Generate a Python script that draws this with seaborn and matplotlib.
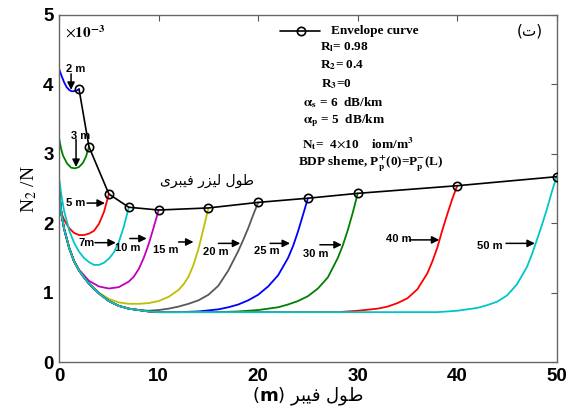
import numpy as np
import pandas as pd
import seaborn as sns
import matplotlib
matplotlib.use("Agg")
import matplotlib.pyplot as plt

# ---- inversion profiles N2/N (x 1e-3) along the fibre for each laser length ----
z_2m = [0, 0.25, 0.5, 0.75, 1, 1.25, 1.5, 1.75, 2]
n_2m = [4.22, 4.12, 4.03, 3.96, 3.92, 3.90, 3.90, 3.91, 3.93]

z_3m = [0, 0.2, 0.4, 0.8, 1.2, 1.6, 2.0, 2.4, 2.7, 3.0]
n_3m = [3.22, 3.07, 2.97, 2.86, 2.80, 2.79, 2.81, 2.87, 2.96, 3.10]

z_5m = [0, 0.25, 0.5, 1, 1.5, 2, 2.5, 3, 3.5, 4, 4.5, 5]
n_5m = [2.30, 2.14, 2.05, 1.93, 1.86, 1.83, 1.83, 1.85, 1.89, 1.99, 2.16, 2.42]

z_7m = [0, 0.25, 0.5, 1, 1.5, 2, 2.5, 3, 3.5, 4, 4.5, 5, 5.5, 6, 6.5, 7]
n_7m = [2.64, 2.38, 2.18, 1.90, 1.72, 1.59, 1.50, 1.44, 1.40, 1.40, 1.43, 1.49,
        1.58, 1.73, 1.95, 2.23]

z_10m = [0, 0.25, 0.5, 1, 1.5, 2, 3, 4, 5, 6, 7, 7.5, 8, 8.5, 9, 9.5, 10]
n_10m = [2.45, 2.12, 1.92, 1.65, 1.46, 1.33, 1.17, 1.09, 1.06, 1.08, 1.16, 1.23,
         1.34, 1.50, 1.70, 1.94, 2.19]

z_15m = [0, 0.25, 0.5, 1, 1.5, 2, 3, 4, 5, 6, 7, 8, 9, 10, 11, 12, 12.5, 13,
         13.5, 14, 14.5, 15]
n_15m = [2.45, 2.12, 1.92, 1.65, 1.45, 1.32, 1.13, 1.00, 0.91, 0.86, 0.84, 0.84,
         0.85, 0.88, 0.94, 1.04, 1.12, 1.23, 1.40, 1.63, 1.92, 2.22]

z_20m = [0, 0.25, 0.5, 1, 1.5, 2, 2.5, 3, 4, 5, 6, 7, 8, 9, 10, 11, 12, 13, 14,
         15, 16, 17, 17.5, 18, 18.5, 19, 19.5, 20]
n_20m = [2.45, 2.12, 1.92, 1.65, 1.45, 1.32, 1.22, 1.13, 0.99, 0.88, 0.81, 0.77,
         0.75, 0.74, 0.75, 0.77, 0.80, 0.84, 0.89, 0.97, 1.10, 1.32, 1.46, 1.60,
         1.76, 1.93, 2.12, 2.30]

z_25m = [0, 0.25, 0.5, 1, 1.5, 2, 2.5, 3, 4, 5, 6, 7, 8, 9, 10, 12, 14, 16, 17,
         18, 19, 20, 21, 22, 23, 23.5, 24, 24.5, 25]
n_25m = [2.45, 2.12, 1.92, 1.65, 1.45, 1.32, 1.22, 1.13, 0.99, 0.88, 0.81, 0.77,
         0.75, 0.73, 0.72, 0.72, 0.73, 0.76, 0.79, 0.83, 0.89, 0.97, 1.09, 1.25,
         1.50, 1.67, 1.88, 2.12, 2.36]

z_30m = [0, 0.25, 0.5, 1, 1.5, 2, 2.5, 3, 4, 5, 6, 7, 8, 9, 10, 12, 14, 16, 18,
         20, 21, 22, 23, 24, 25, 26, 27, 28, 28.5, 29, 29.5, 30]
n_30m = [2.45, 2.12, 1.92, 1.65, 1.45, 1.32, 1.22, 1.13, 0.99, 0.88, 0.81, 0.77,
         0.75, 0.73, 0.72, 0.72, 0.72, 0.72, 0.73, 0.75, 0.77, 0.79, 0.83, 0.88,
         0.95, 1.06, 1.22, 1.50, 1.68, 1.90, 2.15, 2.43]

z_40m = [0, 0.25, 0.5, 1, 1.5, 2, 2.5, 3, 4, 5, 6, 7, 8, 9, 10, 12, 16, 20, 24,
         28, 30, 32, 33, 34, 35, 36, 37, 37.5, 38, 38.5, 39, 39.5, 40]
n_40m = [2.45, 2.12, 1.92, 1.65, 1.45, 1.32, 1.22, 1.13, 0.99, 0.88, 0.81, 0.77,
         0.75, 0.73, 0.72, 0.72, 0.72, 0.72, 0.72, 0.72, 0.74, 0.77, 0.80, 0.85,
         0.92, 1.05, 1.28, 1.45, 1.65, 1.90, 2.13, 2.35, 2.54]

z_50m = [0, 0.25, 0.5, 1, 1.5, 2, 2.5, 3, 4, 5, 6, 7, 8, 9, 10, 12, 16, 20, 24,
         28, 32, 36, 38, 40, 42, 43, 44, 45, 46, 47, 47.5, 48, 48.5, 49, 49.5, 50]
n_50m = [2.45, 2.12, 1.92, 1.65, 1.45, 1.32, 1.22, 1.13, 0.99, 0.88, 0.81, 0.77,
         0.75, 0.73, 0.72, 0.72, 0.72, 0.72, 0.72, 0.72, 0.72, 0.72, 0.72, 0.74,
         0.78, 0.82, 0.87, 0.96, 1.12, 1.37, 1.55, 1.76, 1.97, 2.20, 2.45, 2.68]

# envelope: end-of-fibre inversion for each laser length
env_len = [2, 3, 5, 7, 10, 15, 20, 25, 30, 40, 50]
env_n2 = [3.93, 3.10, 2.42, 2.23, 2.19, 2.22, 2.30, 2.36, 2.43, 2.54, 2.67]

curves = [
    ("2 m", z_2m, n_2m, (0, 0, 1)),
    ("3 m", z_3m, n_3m, (0, 0.5, 0)),
    ("5 m", z_5m, n_5m, (1, 0, 0)),
    ("7m", z_7m, n_7m, (0, 0.78, 0.78)),
    ("10 m", z_10m, n_10m, (0.75, 0, 0.75)),
    ("15 m", z_15m, n_15m, (0.75, 0.75, 0)),
    ("20 m", z_20m, n_20m, (0.35, 0.35, 0.35)),
    ("25 m", z_25m, n_25m, (0, 0, 1)),
    ("30 m", z_30m, n_30m, (0, 0.5, 0)),
    ("40 m", z_40m, n_40m, (1, 0, 0)),
    ("50 m", z_50m, n_50m, (0, 0.78, 0.78)),
]

# length labels: (text, text centre x, y, arrow tail x, tail y, head x, head y)
labels = [
    ("2 m", 1.7, 4.22, 1.2, 4.15, 1.2, 3.92),
    ("3 m", 2.2, 3.26, 1.7, 3.21, 1.7, 2.81),
    ("5 m", 1.7, 2.29, 2.8, 2.29, 4.6, 2.29),
    ("7m", 2.76, 1.72, 3.6, 1.72, 5.7, 1.72),
    ("10 m", 6.9, 1.65, 7.1, 1.78, 8.8, 1.78),
    ("15 m", 10.7, 1.62, 12.0, 1.73, 13.5, 1.73),
    ("20 m", 15.7, 1.59, 16.0, 1.71, 18.2, 1.71),
    ("25 m", 20.9, 1.60, 21.2, 1.71, 23.2, 1.71),
    ("30 m", 25.8, 1.56, 26.2, 1.69, 28.4, 1.69),
    ("40 m", 34.1, 1.78, 35.2, 1.76, 38.2, 1.76),
    ("50 m", 43.3, 1.67, 44.9, 1.71, 47.8, 1.71),
]

# ---- minimal Persian shaping (presentation forms, visual order) ----
FORMS = {
    'ط': ('\uFEC1', '\uFEC2', '\uFEC3', '\uFEC4'),
    'و': ('\uFEED', '\uFEEE', None, None),
    'ل': ('\uFEDD', '\uFEDE', '\uFEDF', '\uFEE0'),
    'ی': ('\uFEEF', '\uFEF0', '\uFEF3', '\uFEF4'),
    'ز': ('\uFEAF', '\uFEB0', None, None),
    'ر': ('\uFEAD', '\uFEAE', None, None),
    'ف': ('\uFED1', '\uFED2', '\uFED3', '\uFED4'),
    'ب': ('\uFE8F', '\uFE90', '\uFE91', '\uFE92'),
}


def shape_fa(text):
    out = []
    for i, ch in enumerate(text):
        if ch not in FORMS:
            out.append(ch)
            continue
        prev = text[i - 1] if i > 0 else None
        nxt = text[i + 1] if i + 1 < len(text) else None
        j_prev = prev in FORMS and FORMS[prev][2] is not None
        j_next = nxt in FORMS and FORMS[ch][2] is not None
        iso, fin, ini, med = FORMS[ch]
        if j_prev and j_next:
            out.append(med)
        elif j_prev:
            out.append(fin)
        elif j_next:
            out.append(ini)
        else:
            out.append(iso)
    return ''.join(reversed(out))


sns.set_theme(style="white")
plt.rcParams["mathtext.fontset"] = "stix"

fig = plt.figure(figsize=(5.74, 4.12), dpi=100)
ax = fig.add_axes([0.103, 0.121, 0.867, 0.843])

for name, zs, ns, col in curves:
    df = pd.DataFrame({"z": zs, "n": ns})
    sns.lineplot(data=df, x="z", y="n", color=col, lw=1.3, sort=False,
                 ax=ax, legend=False)

env = pd.DataFrame({"L": env_len, "N2": env_n2})
sns.lineplot(data=env, x="L", y="N2", color="black", lw=1.2, marker="o",
             markersize=6, markerfacecolor="none", markeredgecolor="black",
             markeredgewidth=1.2, sort=False, ax=ax, legend=False, zorder=5)

for txt, tx, ty, ax0, ay0, ax1, ay1 in labels:
    ax.text(tx, ty, txt, ha="center", va="center", fontsize=8,
            fontweight="bold", family="Liberation Sans", color="black")
    ax.annotate("", xy=(ax1, ay1), xytext=(ax0, ay0),
                arrowprops=dict(arrowstyle="-|>", color="black", lw=1.1,
                                mutation_scale=11, shrinkA=0, shrinkB=0))

# legend-style key for the envelope curve
ax.plot([22.2, 26.2], [4.77, 4.77], color="black", lw=1.2)
ax.plot([24.3], [4.77], "o", ms=6, mfc="none", mec="black", mew=1.2)
serif = dict(family="Liberation Serif", fontweight="bold", fontsize=9.5,
             va="center", ha="left", color="black")
ax.text(27.3, 4.77, "Envelope curve", **serif)
ax.text(26.2, 4.53, r"R$_\mathbf{l}$= 0.98", **serif)
ax.text(26.2, 4.28, r"R$_\mathbf{2}$= 0.4", **serif)
ax.text(26.3, 4.01, r"R$_\mathbf{3}$=0", **serif)
ax.text(24.5, 3.73, r"$\mathbf{\alpha_s}$ = 6  dB/km", **serif)
ax.text(24.5, 3.47, r"$\mathbf{\alpha_p}$ = 5  dB/km", **serif)
ax.text(24.4, 3.15, r"N$_\mathbf{t}$=  4$\times$10    iom/m$^\mathbf{3}$", **serif)
ax.text(24.0, 2.86, r"BDP sheme, P$_\mathbf{p}^\mathbf{+}$(0)=P$_\mathbf{p}^\mathbf{-}$(L)",
        **serif)

ax.text(47.3, 4.77, "(ت)", family="DejaVu Sans", fontsize=11, ha="center",
        va="center", color="black")
ax.text(14.9, 2.61, shape_fa("طول لیزر فیبری"), family="DejaVu Sans",
        fontsize=10, ha="center", va="center", color="black")
ax.text(0.6, 4.74, r"$\times\mathbf{10}^{\mathbf{-3}}$", fontsize=11,
        ha="left", va="center", color="black")

ax.set_xlim(0, 50)
ax.set_ylim(0, 5)
ax.set_xticks([0, 10, 20, 30, 40, 50])
ax.set_yticks([0, 1, 2, 3, 4, 5])
ax.tick_params(direction="in", top=True, right=True, length=4, width=0.8,
               color="#555555", pad=4)
for lab in ax.get_xticklabels() + ax.get_yticklabels():
    lab.set_family("Liberation Sans")
    lab.set_fontweight("bold")
    lab.set_fontsize(13.5)
    lab.set_color("black")
for sp in ax.spines.values():
    sp.set_color("#666666")
    sp.set_linewidth(1.0)

ax.set_ylabel(r"N$_2$ /N", family="Liberation Serif", fontsize=14,
              color="black", labelpad=3)
ax.set_xlabel(r"($\mathbf{m}$) " + shape_fa("طول فیبر"), family="DejaVu Sans",
              fontsize=13, color="black", labelpad=1)
ax.xaxis.label.set_math_fontfamily("dejavusans")

fig.savefig("out.png", dpi=100)
